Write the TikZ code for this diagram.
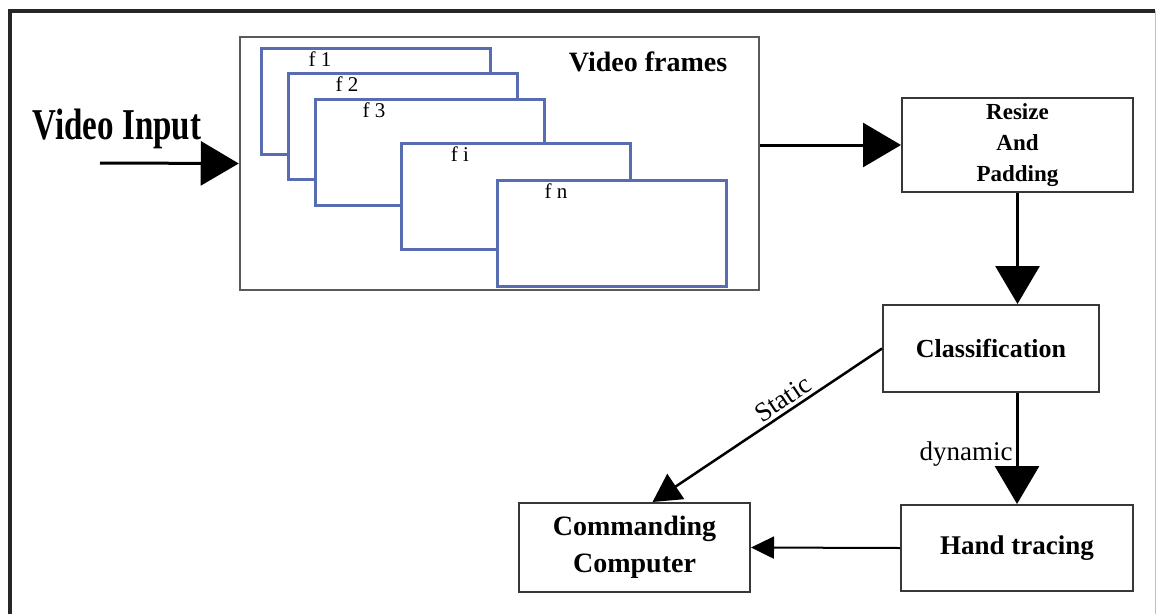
\documentclass[tikz,border=0pt]{standalone}
\usepackage{fontspec}
\setmainfont{Liberation Serif}
\usetikzlibrary{arrows.meta, positioning, calc}

\definecolor{frameblue}{RGB}{88,108,178}
\definecolor{boxgray}{RGB}{55,55,55}

\begin{document}
\begin{tikzpicture}[x=1pt,y=-1pt,>={Triangle[length=38pt,width=44pt]},line width=3pt]
	\tikzstyle{block}=[draw=boxgray,line width=2pt,fill=white,align=center,inner sep=0pt,font=\bfseries]
	\tikzstyle{frame}=[draw=frameblue,line width=3pt,fill=white,minimum width=229pt,minimum height=106pt,inner sep=0pt]
	\tikzstyle{flow}=[draw=black,line width=3pt,->]
	\tikzstyle{tag}=[font=\fontsize{27}{27}\selectfont,inner sep=3pt]
	
	\useasboundingbox (0,0) rectangle (1158,613);
	% outer border of the page
	\draw[line width=4pt,black!85] (10,630) -- (10,11) -- (1155,11);
	\draw[line width=1pt,black!25] (1155,11) -- (1155,630);
	
	% frames container
	\node[block,draw=black!65,line width=2.5pt,minimum width=519pt,minimum height=253pt] (frames) at (499.5,163.5) {};
	\node[font=\bfseries\fontsize{28}{28}\selectfont] (title) at (648,62) {Video frames};
	\foreach \fx/\fy/\fname/\flabel in {260/47/f1/f 1,287/72/f2/f 2,314/98/f3/f 3,400/142/fi/f i,496/179/fn/f n}
	{
		\node[frame,anchor=north west] (\fname) at (\fx,\fy) {};
		\node[font=\fontsize{21}{21}\selectfont] (\fname-txt) at ($(\fname.north west)+(60,12)$) {\flabel};
	}
	
	\node[font=\bfseries\fontsize{44}{44}\selectfont,anchor=base] (input) at (117,139) {\scalebox{0.75}[1]{Video Input}};
	\coordinate (in) at (100,163);
	
	\node[block,minimum width=231pt,minimum height=94pt,font=\bfseries\fontsize{23}{31}\selectfont] (resize) at (1017.5,145) {Resize\\And\\Padding};
	\node[block,minimum width=216pt,minimum height=87pt,font=\bfseries\fontsize{26}{26}\selectfont] (class) at (991,348.5) {Classification};
	\node[block,minimum width=232pt,minimum height=86pt,font=\bfseries\fontsize{27}{27}\selectfont] (hand) at (1017,548) {Hand tracing};
	\node[block,minimum width=231pt,minimum height=89pt,font=\bfseries\fontsize{28}{37}\selectfont] (comm) at (634.5,547.5) {Commanding\\Computer};
	
	\draw[flow] (in) -- (frames.west);
	\draw[flow] (frames.east |- resize.west) -- (resize.west);
	\draw[flow] (resize.south) -- (resize.south |- class.north);
	\draw[flow] (hand.north |- class.south) -- node[tag,left,pos=0.55] (dyn) {dynamic} (hand.north);
	\draw[flow,line width=2.5pt,-{Triangle[length=28pt,width=30pt]}] (class.west) -- node[tag,sloped,above,pos=0.4] (stat) {Static} ($(comm.north)+(18,0)$);
	\draw[line width=2pt,-{Triangle[length=23pt,width=22pt]}] (hand.west) -- (comm.east);
\end{tikzpicture}
\end{document}
